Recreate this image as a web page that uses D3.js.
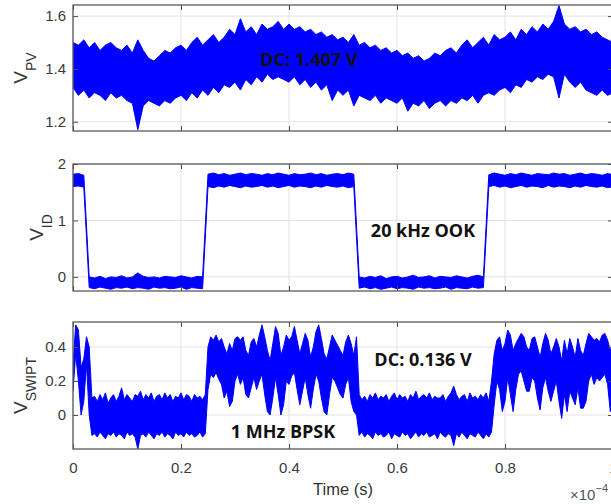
<!DOCTYPE html>
<html>
<head>
<meta charset="utf-8">
<script src="https://cdn.jsdelivr.net/npm/d3@7"></script>
<style>
  body { margin: 0; background: #fff; }
  svg { display: block; }
</style>
</head>
<body>
<svg id="chart" width="611" height="504"></svg>
<script>
// time axis is in units of 1e-4 s, samples are evenly spaced
const stepCoarse = 0.01;
const stepFine = 0.005;
const xTicks = [0, 0.2, 0.4, 0.6, 0.8, 1];

// V_PV envelope (upper / lower), one value per 0.01
const vpvHi = [
  1.50, 1.49, 1.51, 1.48, 1.50, 1.47, 1.49, 1.50, 1.48, 1.47,
  1.49, 1.46, 1.51, 1.47, 1.44, 1.43, 1.45, 1.47, 1.46, 1.48,
  1.49, 1.47, 1.50, 1.52, 1.49, 1.51, 1.53, 1.50, 1.52, 1.55,
  1.53, 1.59, 1.54, 1.56, 1.53, 1.57, 1.55, 1.56, 1.58, 1.55,
  1.57, 1.55, 1.56, 1.54, 1.55, 1.53, 1.54, 1.52, 1.53, 1.51,
  1.52, 1.50, 1.53, 1.49, 1.50, 1.48, 1.49, 1.47, 1.48, 1.46,
  1.47, 1.45, 1.46, 1.44, 1.45, 1.43, 1.44, 1.46, 1.45, 1.47,
  1.48, 1.46, 1.49, 1.51, 1.48, 1.50, 1.52, 1.49, 1.53, 1.51,
  1.52, 1.54, 1.51, 1.55, 1.53, 1.56, 1.54, 1.57, 1.55, 1.58,
  1.64, 1.57, 1.55, 1.56, 1.54, 1.55, 1.53, 1.54, 1.52, 1.51,
  1.50
];
const vpvLo = [
  1.33, 1.30, 1.32, 1.29, 1.31, 1.30, 1.28, 1.31, 1.29, 1.30,
  1.28, 1.27, 1.17, 1.26, 1.28, 1.27, 1.26, 1.28, 1.27, 1.29,
  1.30, 1.28, 1.31, 1.29, 1.32, 1.30, 1.33, 1.31, 1.34, 1.33,
  1.35, 1.32, 1.36, 1.34, 1.37, 1.35, 1.38, 1.36, 1.37, 1.36,
  1.35, 1.37, 1.34, 1.36, 1.33, 1.35, 1.32, 1.34, 1.28, 1.32,
  1.30, 1.32, 1.26, 1.30, 1.29, 1.28, 1.30, 1.27, 1.29, 1.28,
  1.27, 1.29, 1.24, 1.27, 1.26, 1.28, 1.25, 1.27, 1.28, 1.26,
  1.28, 1.27, 1.29, 1.28, 1.30, 1.27, 1.30, 1.31, 1.30, 1.32,
  1.33, 1.31, 1.34, 1.33, 1.36, 1.35, 1.37, 1.36, 1.38, 1.37,
  1.29, 1.38, 1.35, 1.33, 1.35, 1.32, 1.31, 1.30, 1.32, 1.30,
  1.31
];

// V_ID envelope, one value per 0.01
const vidHi = [
  1.82, 1.83, 1.80,
  0.00, -0.02, 0.01, -0.03, 0.00, -0.01, 0.02, -0.02, 0.00, 0.07, 0.01,
  -0.01, 0.00, -0.02, 0.01, 0.00, -0.01, 0.02, 0.00, -0.02, 0.01, 0.00,
  1.82, 1.84, 1.81, 1.83, 1.80, 1.82, 1.84, 1.81, 1.83, 1.82,
  1.80, 1.83, 1.81, 1.84, 1.82, 1.80, 1.83, 1.81, 1.82, 1.84,
  1.81, 1.83, 1.80, 1.82, 1.83, 1.81, 1.84, 1.82,
  0.00, -0.02, 0.01, -0.01, 0.02, -0.03, 0.00, 0.01, -0.02, 0.00, 0.03, -0.01,
  0.00, 0.02, -0.02, 0.01, 0.00, -0.01, 0.02, 0.00, -0.02, 0.01, 0.03, 0.00,
  1.81, 1.84, 1.82, 1.80, 1.83, 1.81, 1.84, 1.82, 1.80, 1.83, 1.82, 1.81,
  1.84, 1.82, 1.83, 1.80, 1.82, 1.84, 1.81, 1.83, 1.82, 1.80, 1.83, 1.81
];
const vidLo = [
  1.60, 1.61, 1.59,
  -0.19, -0.21, -0.18, -0.20, -0.22, -0.19, -0.20, -0.18, -0.21, -0.19, -0.20,
  -0.22, -0.18, -0.20, -0.19, -0.21, -0.20, -0.18, -0.22, -0.19, -0.20, -0.21,
  1.60, 1.58, 1.61, 1.59, 1.62, 1.60, 1.58, 1.61, 1.59, 1.60,
  1.62, 1.59, 1.61, 1.58, 1.60, 1.62, 1.59, 1.61, 1.60, 1.58,
  1.61, 1.59, 1.62, 1.60, 1.59, 1.61, 1.58, 1.60,
  -0.20, -0.18, -0.21, -0.19, -0.22, -0.20, -0.18, -0.21, -0.19, -0.20, -0.22, -0.18,
  -0.20, -0.19, -0.21, -0.20, -0.18, -0.22, -0.19, -0.20, -0.21, -0.18, -0.20, -0.19,
  1.60, 1.62, 1.59, 1.61, 1.58, 1.60, 1.62, 1.59, 1.61, 1.60, 1.58, 1.62,
  1.59, 1.61, 1.60, 1.58, 1.61, 1.59, 1.62, 1.60, 1.59, 1.61, 1.58, 1.60
];

// V_SWIPT envelope, one value per 0.005
const vswHi = [
  0.30, 0.53, 0.50, 0.28, 0.33, 0.46, 0.40, 0.10,
  0.11, 0.08, 0.12, 0.09, 0.13, 0.07, 0.10, 0.12, 0.08, 0.11,
  0.16, 0.09, 0.12, 0.10, 0.08, 0.12, 0.11, 0.14, 0.09, 0.12,
  0.10, 0.13, 0.08, 0.11, 0.12, 0.09, 0.13, 0.10, 0.12, 0.08,
  0.11, 0.10, 0.13, 0.09, 0.12, 0.11, 0.08, 0.12, 0.10, 0.11,
  0.09, 0.12,
  0.40, 0.46, 0.44, 0.47, 0.43, 0.45, 0.40, 0.36, 0.42, 0.38,
  0.45, 0.46, 0.44, 0.46, 0.38, 0.35, 0.43, 0.45, 0.40, 0.47,
  0.53, 0.46, 0.38, 0.32, 0.42, 0.52, 0.48, 0.35, 0.40, 0.47,
  0.44, 0.46, 0.52, 0.44, 0.36, 0.42, 0.48, 0.44, 0.34, 0.40,
  0.49, 0.53, 0.45, 0.36, 0.33, 0.40, 0.47, 0.44, 0.41, 0.38,
  0.35, 0.43, 0.47, 0.42, 0.35, 0.46,
  0.12, 0.09, 0.11, 0.08, 0.12, 0.10, 0.13, 0.09, 0.11, 0.10,
  0.12, 0.08, 0.11, 0.13, 0.09, 0.12, 0.10, 0.11, 0.08, 0.12,
  0.10, 0.14, 0.09, 0.11, 0.12, 0.10, 0.13, 0.09, 0.11, 0.10,
  0.10, 0.12, 0.08, 0.11, 0.13, 0.17, 0.12, 0.09, 0.11, 0.12,
  0.08, 0.13, 0.10, 0.11, 0.09, 0.12, 0.10, 0.13, 0.08,
  0.20, 0.36, 0.44, 0.46, 0.38, 0.42, 0.50, 0.47, 0.38, 0.42,
  0.45, 0.48, 0.46, 0.40, 0.38, 0.45, 0.46, 0.40, 0.34, 0.42,
  0.48, 0.44, 0.36, 0.40, 0.45, 0.40, 0.32, 0.44, 0.36, 0.45,
  0.40, 0.34, 0.45, 0.38, 0.35, 0.42, 0.48, 0.46, 0.44, 0.45,
  0.43, 0.47, 0.48, 0.44, 0.38, 0.42
];
const vswLo = [
  0.14, 0.36, 0.20, 0.00, 0.08, 0.30, 0.00, -0.12,
  -0.11, -0.13, -0.10, -0.12, -0.14, -0.11, -0.12, -0.10, -0.13, -0.11,
  -0.12, -0.14, -0.10, -0.12, -0.11, -0.13, -0.20, -0.12, -0.11, -0.13,
  -0.10, -0.12, -0.14, -0.11, -0.12, -0.10, -0.13, -0.11, -0.12, -0.14,
  -0.10, -0.12, -0.11, -0.13, -0.10, -0.12, -0.11, -0.13, -0.12, -0.10,
  -0.13, -0.11,
  0.15, 0.24, 0.22, 0.25, 0.21, 0.18, 0.10, 0.14, 0.05, 0.08,
  0.20, 0.24, 0.18, 0.22, 0.12, 0.10, 0.16, 0.22, 0.15, 0.20,
  0.24, 0.12, 0.02, 0.00, 0.10, 0.22, 0.12, 0.00, 0.06, 0.20,
  0.18, 0.23, 0.25, 0.15, 0.06, 0.14, 0.22, 0.12, 0.04, 0.15,
  0.24, 0.20, 0.10, 0.02, 0.00, 0.12, 0.22, 0.20, 0.16, 0.12,
  0.10, 0.18, 0.22, 0.08, 0.02, 0.00,
  -0.12, -0.10, -0.13, -0.11, -0.12, -0.14, -0.10, -0.12, -0.11, -0.13,
  -0.12, -0.10, -0.14, -0.11, -0.12, -0.13, -0.10, -0.12, -0.11, -0.14,
  -0.12, -0.10, -0.13, -0.11, -0.12, -0.10, -0.13, -0.12, -0.11, -0.14,
  -0.10, -0.12, -0.13, -0.11, -0.12, -0.18, -0.11, -0.13, -0.10, -0.12,
  -0.14, -0.11, -0.12, -0.13, -0.10, -0.12, -0.14, -0.11, -0.13,
  -0.10, 0.06, 0.20, 0.15, 0.02, 0.08, 0.22, 0.12, 0.02, 0.15,
  0.24, 0.26, 0.20, 0.14, 0.14, 0.22, 0.20, 0.10, 0.03, 0.16,
  0.22, 0.14, 0.08, 0.14, 0.20, 0.08, -0.02, 0.12, 0.02, 0.14,
  0.10, 0.06, 0.16, 0.04, 0.04, 0.08, 0.20, 0.24, 0.18, 0.22,
  0.20, 0.22, 0.24, 0.18, 0.02, 0.10
];

const vpvTicks = [1.2, 1.4, 1.6];
const vidTicks = [0, 1, 2];
const vswTicks = [0, 0.2, 0.4];

const svg = d3.select('#chart');
const axisFont = '"Liberation Sans", Arial, sans-serif';
const noteFont = '"Open Sans", sans-serif';
const plotLeft = 73, plotRight = 613;

const x = d3.scaleLinear().domain([0, 1]).range([plotLeft, plotRight]);

const panels = [
  { id: 'pv', top: 5, bottom: 131, domain: [1.165, 1.642], ticks: vpvTicks, fmt: d3.format('.1f'),
    hi: vpvHi, lo: vpvLo, step: stepCoarse, main: 'V', sub: 'PV', labelX: 27 },
  { id: 'id', top: 164, bottom: 291, domain: [-0.25, 2], ticks: vidTicks, fmt: d3.format('d'),
    hi: vidHi, lo: vidLo, step: stepCoarse, main: 'V', sub: 'ID', labelX: 43 },
  { id: 'sw', top: 322, bottom: 449, domain: [-0.2, 0.547], ticks: vswTicks, fmt: d3.format('~g'),
    hi: vswHi, lo: vswLo, step: stepFine, main: 'V', sub: 'SWIPT', labelX: 27 }
];

const defs = svg.append('defs');

panels.forEach((p, k) => {
  const y = d3.scaleLinear().domain(p.domain).range([p.bottom, p.top]);
  const g = svg.append('g');
  const h = p.bottom - p.top;

  defs.append('clipPath').attr('id', 'clip-' + p.id)
    .append('rect')
    .attr('x', plotLeft).attr('y', p.top)
    .attr('width', plotRight - plotLeft).attr('height', h);

  // grid
  g.append('g').selectAll('line').data(xTicks).join('line')
    .attr('x1', d => x(d)).attr('x2', d => x(d))
    .attr('y1', p.top).attr('y2', p.bottom)
    .attr('stroke', '#e3e3e3').attr('stroke-width', 1);
  g.append('g').selectAll('line').data(p.ticks).join('line')
    .attr('x1', plotLeft).attr('x2', plotRight)
    .attr('y1', d => y(d)).attr('y2', d => y(d))
    .attr('stroke', '#e3e3e3').attr('stroke-width', 1);

  // signal envelope
  const area = d3.area()
    .x((d, i) => x(i * p.step))
    .y0((d, i) => y(p.lo[i]))
    .y1(d => y(d));

  g.append('path')
    .datum(p.hi)
    .attr('clip-path', `url(#clip-${p.id})`)
    .attr('d', area)
    .attr('fill', '#0000ff')
    .attr('stroke', '#0000ff')
    .attr('stroke-width', 1)
    .attr('stroke-linejoin', 'miter');

  // axes, MATLAB style: inward ticks on all four sides
  const left = g.append('g')
    .attr('transform', `translate(${plotLeft},0)`)
    .call(d3.axisLeft(y).tickValues(p.ticks).tickFormat(p.fmt).tickSizeInner(-5).tickSizeOuter(0).tickPadding(7));
  const right = g.append('g')
    .attr('transform', `translate(${plotRight},0)`)
    .call(d3.axisRight(y).tickValues(p.ticks).tickFormat('').tickSizeInner(-5).tickSizeOuter(0));
  const top = g.append('g')
    .attr('transform', `translate(0,${p.top})`)
    .call(d3.axisTop(x).tickValues(xTicks).tickFormat('').tickSizeInner(-5).tickSizeOuter(0));
  const bottom = g.append('g')
    .attr('transform', `translate(0,${p.bottom})`)
    .call(d3.axisBottom(x).tickValues(xTicks)
      .tickFormat(k === panels.length - 1 ? d3.format('~g') : '')
      .tickSizeInner(-5).tickSizeOuter(0).tickPadding(13));

  [left, right, top, bottom].forEach(a => {
    a.select('.domain').remove();
    a.selectAll('line').attr('stroke', '#4d4d4d');
    a.selectAll('text')
      .attr('fill', '#3a3a3a')
      .style('font-family', axisFont)
      .style('font-size', '15px');
  });

  g.append('rect')
    .attr('x', plotLeft).attr('y', p.top)
    .attr('width', plotRight - plotLeft).attr('height', h)
    .attr('fill', 'none')
    .attr('stroke', '#5a5a5a')
    .attr('stroke-width', 1.3);

  // y label with subscript
  const lab = svg.append('text')
    .attr('transform', `translate(${p.labelX},${(p.top + p.bottom) / 2}) rotate(-90)`)
    .attr('text-anchor', 'middle')
    .attr('fill', '#333')
    .style('font-family', axisFont);
  lab.append('tspan').style('font-size', '19px').text(p.main);
  lab.append('tspan').style('font-size', '14px').attr('dy', 9).text(p.sub);
});

// x label and exponent
svg.append('text')
  .attr('x', (plotLeft + plotRight) / 2).attr('y', 495)
  .attr('text-anchor', 'middle')
  .attr('fill', '#333')
  .style('font-family', axisFont).style('font-size', '16.5px')
  .text('Time (s)');

const expo = svg.append('text')
  .attr('x', 570).attr('y', 500)
  .attr('fill', '#555')
  .style('font-family', axisFont).style('font-size', '15px');
expo.append('tspan').text('\u00d710');
expo.append('tspan').attr('dy', -8).style('font-size', '11px').text('\u22124');

// annotations
const notes = [
  { text: 'DC: 1.407 V', x: 309, y: 66 },
  { text: '20 kHz OOK', x: 423, y: 237 },
  { text: 'DC: 0.136 V', x: 423, y: 366 },
  { text: '1 MHz BPSK', x: 283, y: 438 }
];
svg.append('g').selectAll('text').data(notes).join('text')
  .attr('x', d => d.x).attr('y', d => d.y)
  .attr('text-anchor', 'middle')
  .attr('fill', '#111')
  .style('font-family', noteFont)
  .style('font-size', '18px')
  .style('font-weight', 700)
  .text(d => d.text);
</script>
</body>
</html>
